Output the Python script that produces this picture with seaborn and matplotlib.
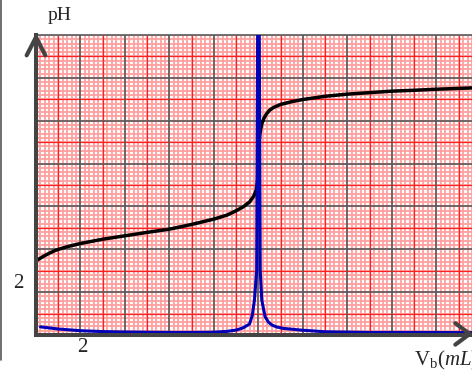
import numpy as np
import matplotlib.pyplot as plt
import seaborn as sns
from matplotlib.lines import Line2D

# titration curve: pH vs added base volume (mL)
vol_ph = [0.0, 0.3, 0.6, 0.9, 1.4, 2.0, 3.0, 4.0, 5.0, 6.0, 7.0, 8.0, 8.6,
          9.0, 9.3, 9.6, 9.8, 9.9, 9.96, 10.0, 10.03, 10.06, 10.1, 10.15,
          10.25, 10.35, 10.5, 10.7, 11.0, 11.5, 12.0, 13.0, 14.0, 15.0, 16.0,
          17.0, 18.0, 19.6]
ph = [3.46, 3.65, 3.82, 3.96, 4.12, 4.27, 4.47, 4.63, 4.79, 4.94, 5.16, 5.41,
      5.6, 5.80, 5.97, 6.21, 6.5, 6.76, 7.2, 8.3, 9.0, 9.35, 9.6, 9.85, 10.12,
      10.3, 10.49, 10.63, 10.76, 10.89, 10.99, 11.14, 11.24, 11.31, 11.38,
      11.42, 11.47, 11.53]

# derivative curve dpH/dV (drawn in pH units, peak runs off the top)
vol_d = [0.2, 1.0, 2.0, 3.0, 4.0, 5.0, 6.0, 7.0, 8.0, 8.6, 9.0, 9.3, 9.6,
         9.72, 9.82, 9.92, 9.985, 10.015, 10.08, 10.15, 10.3, 10.45, 10.6,
         10.8, 11.1, 11.9, 13.0, 15.0, 17.0, 19.6]
dph = [0.38, 0.28, 0.20, 0.16, 0.14, 0.13, 0.12, 0.12, 0.13, 0.17, 0.23,
       0.33, 0.51, 0.9, 1.63, 3.0, 20.0, 20.0, 3.0, 1.63, 0.85, 0.6, 0.47,
       0.38, 0.31, 0.23, 0.15, 0.12, 0.12, 0.11]

xmax, ymax = 19.6, 14

sns.set_style("white")
plt.rcParams["font.family"] = ["Liberation Serif", "DejaVu Serif"]
plt.rcParams["mathtext.fontset"] = "custom"
plt.rcParams["mathtext.rm"] = "Liberation Serif"
plt.rcParams["mathtext.it"] = "Liberation Serif:italic"

fig = plt.figure(figsize=(4.72, 3.76), dpi=100)
ax = fig.add_axes([36 / 472, 41 / 376, 1 - 36 / 472, 300 / 376])
ax.set_xlim(0, xmax)
ax.set_ylim(0, ymax)

# graph paper
minor_x = np.arange(0, xmax + 0.01, 0.2)
minor_y = np.arange(0, ymax + 0.01, 0.2)
ax.vlines(minor_x, 0, ymax, color="#ff9f9f", lw=1.3, zorder=0)
ax.hlines(minor_y, 0, xmax, color="#ff9f9f", lw=1.3, zorder=0)
ax.vlines(np.arange(1, xmax, 2), 0, ymax, color="#ff2020", lw=0.9, zorder=0.5)
ax.hlines(np.arange(1, ymax, 2), 0, xmax, color="#ff2020", lw=0.9, zorder=0.5)
ax.vlines(np.arange(2, xmax, 2), 0, ymax, color="#5a5a5a", lw=1.2, zorder=0.6)
ax.hlines(np.arange(2, ymax + 0.1, 2), 0, xmax, color="#5a5a5a", lw=1.2,
          zorder=0.6, clip_on=False)

sns.lineplot(x=vol_ph, y=ph, sort=False, color="black", lw=2.5, ax=ax,
             zorder=3)
sns.lineplot(x=vol_d, y=dph, sort=False, color="#0000b8", lw=2.2, ax=ax,
             zorder=4)

ax.set_xticks([])
ax.set_yticks([])
ax.set_xlabel("")
ax.set_ylabel("")
for side in ["top", "right"]:
    ax.spines[side].set_visible(False)
for side in ["left", "bottom"]:
    ax.spines[side].set_color("#444444")
    ax.spines[side].set_linewidth(2.9)
    ax.spines[side].set_zorder(5)

# arrow heads on the axes
arrow_kw = dict(color="#444444", lw=3.0, clip_on=False, zorder=6,
                solid_capstyle="round")
ax.plot([-0.42, 0, 0.42], [13.05, 13.9, 13.05], **arrow_kw)
ax.plot([18.85, 19.5, 18.85], [0.55, 0.05, -0.45], **arrow_kw)

fig.text(60 / 472, 1 - 15 / 376, "pH", fontsize=14, ha="center", va="center")
fig.text(18 / 472, 1 - 283 / 376, "2", fontsize=15, ha="center", va="center")
fig.text(82 / 472, 1 - 348 / 376, "2", fontsize=15, ha="center", va="center")
fig.text(414 / 472, 1 - 360 / 376, r"V$_\mathrm{b}$($\mathit{mL}$)",
         fontsize=15, ha="left", va="center")

fig.add_artist(Line2D([0.5 / 472, 0.5 / 472], [1, 1 - 360 / 376],
                      color="#555555", lw=1.2))

fig.savefig("out.png", dpi=100)
